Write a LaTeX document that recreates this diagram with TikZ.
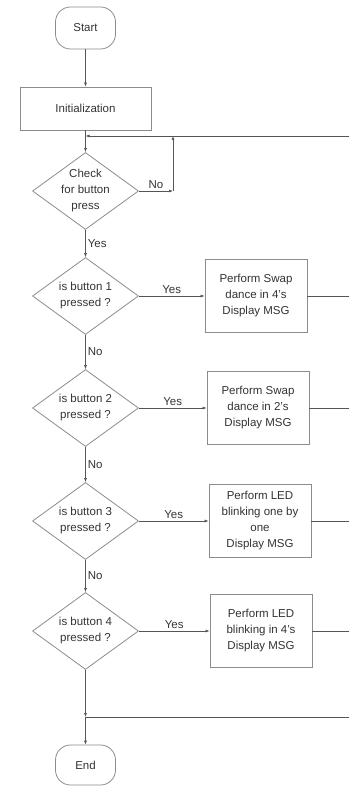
\documentclass[tikz,border=0pt]{standalone}
\usepackage{fontspec}
\setmainfont{Liberation Sans}
\usetikzlibrary{arrows.meta,positioning,shapes.geometric}
\definecolor{edgegray}{HTML}{8C8C8C}
\definecolor{linegray}{HTML}{555555}
\definecolor{txtgray}{HTML}{333333}

\begin{document}
\begin{tikzpicture}[x=1pt,y=-1pt,>={Latex[length=4pt,width=3pt]},
  every node/.style={text=txtgray,font=\fontsize{11.5}{16}\selectfont},
  term/.style={draw=edgegray,thick,rounded corners=15pt,minimum width=60pt,minimum height=42pt},
  procbox/.style={draw=edgegray,thick,align=center,minimum width=102pt,minimum height=73pt,inner sep=0pt},
  decision/.style={draw=edgegray,thick,diamond,align=center,minimum width=106pt,minimum height=77pt,inner sep=-6pt},
  flow/.style={draw=linegray,semithick},
  tag/.style={inner sep=2pt}]
  \useasboundingbox (0,0) rectangle (349,786);
  \node[term] (start) at (85.5,28) {Start};
  \node[draw=edgegray,thick,minimum width=131pt,minimum height=43pt] (init) at (85.5,108.5) {Initialization};
  \node[decision] (chk) at (85.5,191) {Check\\for button\\press};
  \node[decision] (btn1) at (85.5,296) {is button 1\\pressed ?};
  \node[decision] (btn2) at (85.5,408) {is button 2\\pressed ?};
  \node[decision] (btn3) at (85.5,521) {is button 3\\pressed ?};
  \node[decision] (btn4) at (85.5,631) {is button 4\\pressed ?};
  \node[procbox] (act1) at (256,296) {Perform Swap\\dance in 4's\\Display MSG};
  \node[procbox] (act2) at (258,408) {Perform Swap\\dance in 2's\\Display MSG};
  \node[procbox] (act3) at (260,521) {Perform LED\\blinking one by\\one\\Display MSG};
  \node[procbox] (act4) at (261,631) {Perform LED\\blinking in 4's\\Display MSG};
  \node[term,minimum height=40pt] (end) at (85.5,765) {End};
  \coordinate (jtop) at (85.5,136);
  \coordinate (notop) at (173,136);
  \coordinate (noright) at (173,191);
  \coordinate (rtop) at (349,136);
  \coordinate (jbot) at (85.5,717);
  \coordinate (rbot) at (349,717);
  \coordinate (r1) at (349,296);
  \coordinate (r2) at (349,408);
  \coordinate (r3) at (349,521);
  \coordinate (r4) at (349,631);
  \draw[flow,->] (start) -- (init);
  \draw[flow] (init) -- (jtop);
  \draw[flow,->] (jtop) -- (chk);
  \draw[flow,->] (chk.east) -- node[tag,above] {No} (noright);
  \draw[flow,->] (noright) -- (notop);
  \draw[flow,->] (rtop) -- (jtop);
  \draw[flow,->] (chk) -- node[tag,right] {Yes} (btn1);
  \draw[flow,->] (btn1) -- node[tag,right] {No} (btn2);
  \draw[flow,->] (btn2) -- node[tag,right] {No} (btn3);
  \draw[flow,->] (btn3) -- node[tag,right] {No} (btn4);
  \draw[flow,->] (btn1) -- node[tag,above] {Yes} (act1);
  \draw[flow,->] (btn2) -- node[tag,above] {Yes} (act2);
  \draw[flow,->] (btn3) -- node[tag,above] {Yes} (act3);
  \draw[flow,->] (btn4) -- node[tag,above] {Yes} (act4);
  \draw[flow] (act1) -- (r1);
  \draw[flow] (act2) -- (r2);
  \draw[flow] (act3) -- (r3);
  \draw[flow] (act4) -- (r4);
  \draw[flow,->] (btn4) -- (jbot);
  \draw[flow] (rbot) -- (jbot);
  \draw[flow,->] (jbot) -- (end);
\end{tikzpicture}
\end{document}
